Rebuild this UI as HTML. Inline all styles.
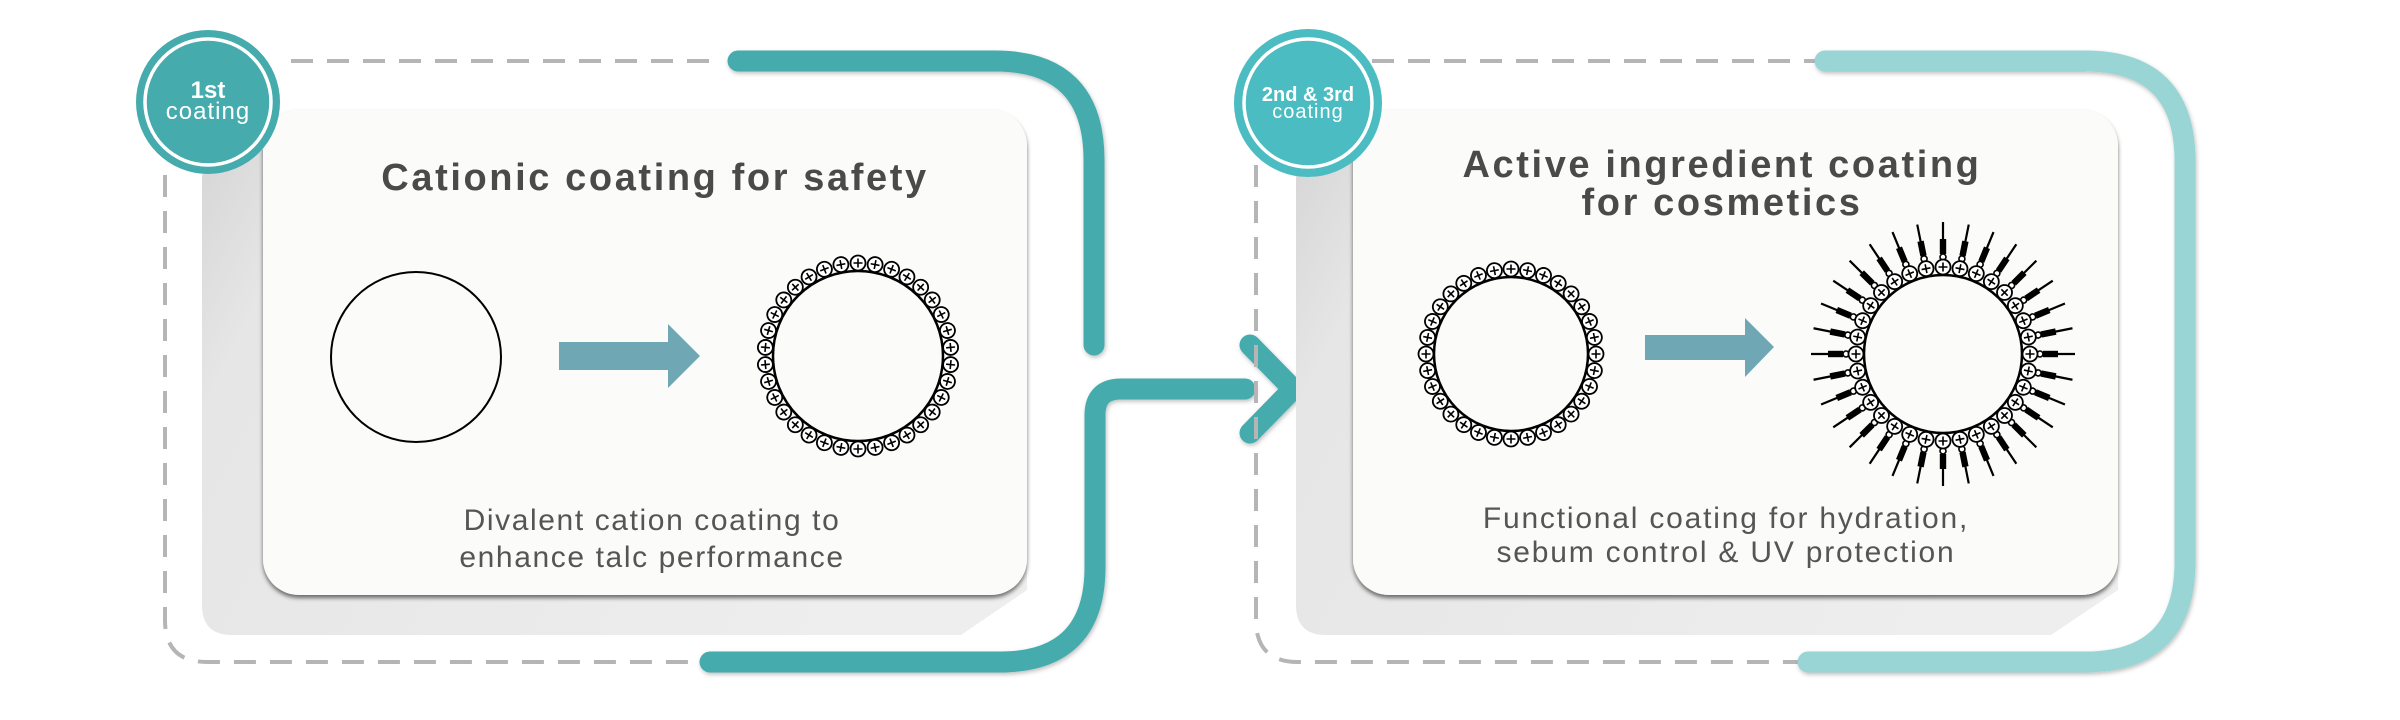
<!DOCTYPE html>
<html><head><meta charset="utf-8"><style>
html,body{margin:0;padding:0;background:#fff;}
svg{display:block;}
text{font-family:"Liberation Sans",sans-serif;}
</style></head><body>
<svg width="2400" height="720" viewBox="0 0 2400 720" xmlns="http://www.w3.org/2000/svg">
<defs>
<linearGradient id="sg" x1="0" y1="0" x2="1" y2="0.3">
<stop offset="0" stop-color="#d6d6d6"/><stop offset="0.15" stop-color="#e6e6e6"/><stop offset="1" stop-color="#eeeeee"/>
</linearGradient>
<filter id="cs" x="-5%" y="-5%" width="110%" height="115%">
<feDropShadow dx="0" dy="3" stdDeviation="2" flood-color="#000" flood-opacity="0.55"/>
</filter>
<filter id="ls" x="-10%" y="-10%" width="120%" height="120%">
<feDropShadow dx="1" dy="2" stdDeviation="2" flood-color="#000" flood-opacity="0.25"/>
</filter>
<g id="bead"><circle r="7.5" fill="#fff" stroke="#000" stroke-width="1.8"/><path d="M-4.5 0H4.5M0 -4.5V4.5" stroke="#000" stroke-width="1.6"/></g>
</defs>

<!-- LEFT PANEL -->
<path d="M291 61H722" stroke="#b5b5b5" stroke-width="4" stroke-dasharray="22 14" fill="none"/>
<path d="M165 175V620Q165 662 207 662H705" stroke="#b5b5b5" stroke-width="4" stroke-dasharray="22 14" fill="none"/>
<path d="M232 150H1027V590L961 635H232Q202 635 202 605V180Q202 150 232 150Z" fill="url(#sg)"/>
<rect x="263" y="110" width="764" height="485" rx="36" fill="#fbfbf9" filter="url(#cs)"/>
<g filter="url(#ls)" fill="none" stroke="#45abad" stroke-width="21" stroke-linecap="round">
<path d="M738 61H995Q1094 61 1094 160V345"/>
<path d="M710 662H1000Q1095 662 1095 567V415Q1095 389 1121 389H1245"/>
<path d="M1250 345L1293 389L1250 433" stroke-linejoin="round"/>
</g>
<circle cx="208" cy="102" r="72" fill="#45abad"/>
<circle cx="208" cy="102" r="63" fill="#45abad" stroke="#fff" stroke-width="3.5"/>
<text x="208" y="98" font-size="24" font-weight="bold" fill="#fff" text-anchor="middle">1st</text>
<text x="208" y="119" font-size="24" fill="#fff" text-anchor="middle" letter-spacing="1">coating</text>

<text x="655" y="190" font-size="38" font-weight="bold" fill="#4a4a4a" text-anchor="middle" letter-spacing="2.6">Cationic coating for safety</text>
<circle cx="416" cy="357" r="85" fill="none" stroke="#000" stroke-width="2"/>
<path d="M559 342H668V324L700 356L668 388V370H559Z" fill="#6fa8b4"/>
<circle cx="858" cy="356" r="85" fill="none" stroke="#000" stroke-width="2.5"/>
<text x="652" y="530" font-size="30" fill="#555" text-anchor="middle" letter-spacing="1.6">Divalent cation coating to</text>
<text x="652" y="567" font-size="30" fill="#555" text-anchor="middle" letter-spacing="1.6">enhance talc performance</text>

<!-- RIGHT PANEL -->
<path d="M1372 61H1815" stroke="#b5b5b5" stroke-width="4" stroke-dasharray="22 14" fill="none"/>
<path d="M1256 165V620Q1256 662 1298 662H1800" stroke="#b5b5b5" stroke-width="4" stroke-dasharray="22 14" fill="none"/>
<path d="M1326 150H2118V590L2051 635H1326Q1296 635 1296 605V180Q1296 150 1326 150Z" fill="url(#sg)"/>
<rect x="1353" y="110" width="765" height="485" rx="36" fill="#fbfbf9" filter="url(#cs)"/>
<path d="M1825 61H2085Q2185 61 2185 161V562Q2185 662 2085 662H1808" fill="none" stroke="#99d5d5" stroke-width="21" stroke-linecap="round" filter="url(#ls)"/>
<circle cx="1308" cy="103" r="74" fill="#4bbcc1"/>
<circle cx="1308" cy="103" r="64" fill="#4bbcc1" stroke="#fff" stroke-width="3.5"/>
<text x="1308" y="101" font-size="20" font-weight="bold" fill="#fff" text-anchor="middle">2nd &amp; 3rd</text>
<text x="1308" y="118" font-size="20" fill="#fff" text-anchor="middle" letter-spacing="1">coating</text>

<text x="1722" y="177" font-size="38" font-weight="bold" fill="#4a4a4a" text-anchor="middle" letter-spacing="2.6">Active ingredient coating</text>
<text x="1722" y="215" font-size="38" font-weight="bold" fill="#4a4a4a" text-anchor="middle" letter-spacing="2.6">for cosmetics</text>
<circle cx="1511" cy="354" r="77" fill="none" stroke="#000" stroke-width="2.5"/>
<path d="M1645 335H1745V318L1774 347L1745 377V360H1645Z" fill="#6fa8b4"/>
<circle cx="1943" cy="354" r="79" fill="none" stroke="#000" stroke-width="2.5"/>
<text x="1726" y="528" font-size="30" fill="#555" text-anchor="middle" letter-spacing="1.8">Functional coating for hydration,</text>
<text x="1726" y="562" font-size="30" fill="#555" text-anchor="middle" letter-spacing="1.8">sebum control &amp; UV protection</text>

<g>
<g transform="translate(858,356)">
<use href="#bead" transform="rotate(0) translate(0,-93)"/><use href="#bead" transform="rotate(10.59) translate(0,-93)"/><use href="#bead" transform="rotate(21.18) translate(0,-93)"/><use href="#bead" transform="rotate(31.76) translate(0,-93)"/><use href="#bead" transform="rotate(42.35) translate(0,-93)"/><use href="#bead" transform="rotate(52.94) translate(0,-93)"/><use href="#bead" transform="rotate(63.53) translate(0,-93)"/><use href="#bead" transform="rotate(74.12) translate(0,-93)"/><use href="#bead" transform="rotate(84.71) translate(0,-93)"/><use href="#bead" transform="rotate(95.29) translate(0,-93)"/><use href="#bead" transform="rotate(105.88) translate(0,-93)"/><use href="#bead" transform="rotate(116.47) translate(0,-93)"/><use href="#bead" transform="rotate(127.06) translate(0,-93)"/><use href="#bead" transform="rotate(137.65) translate(0,-93)"/><use href="#bead" transform="rotate(148.24) translate(0,-93)"/><use href="#bead" transform="rotate(158.82) translate(0,-93)"/><use href="#bead" transform="rotate(169.41) translate(0,-93)"/><use href="#bead" transform="rotate(180) translate(0,-93)"/><use href="#bead" transform="rotate(190.59) translate(0,-93)"/><use href="#bead" transform="rotate(201.18) translate(0,-93)"/><use href="#bead" transform="rotate(211.76) translate(0,-93)"/><use href="#bead" transform="rotate(222.35) translate(0,-93)"/><use href="#bead" transform="rotate(232.94) translate(0,-93)"/><use href="#bead" transform="rotate(243.53) translate(0,-93)"/><use href="#bead" transform="rotate(254.12) translate(0,-93)"/><use href="#bead" transform="rotate(264.71) translate(0,-93)"/><use href="#bead" transform="rotate(275.29) translate(0,-93)"/><use href="#bead" transform="rotate(285.88) translate(0,-93)"/><use href="#bead" transform="rotate(296.47) translate(0,-93)"/><use href="#bead" transform="rotate(307.06) translate(0,-93)"/><use href="#bead" transform="rotate(317.65) translate(0,-93)"/><use href="#bead" transform="rotate(328.24) translate(0,-93)"/><use href="#bead" transform="rotate(338.82) translate(0,-93)"/><use href="#bead" transform="rotate(349.41) translate(0,-93)"/>
</g>
<g transform="translate(1511,354)">
<use href="#bead" transform="rotate(0) translate(0,-85)"/><use href="#bead" transform="rotate(11.25) translate(0,-85)"/><use href="#bead" transform="rotate(22.5) translate(0,-85)"/><use href="#bead" transform="rotate(33.75) translate(0,-85)"/><use href="#bead" transform="rotate(45) translate(0,-85)"/><use href="#bead" transform="rotate(56.25) translate(0,-85)"/><use href="#bead" transform="rotate(67.5) translate(0,-85)"/><use href="#bead" transform="rotate(78.75) translate(0,-85)"/><use href="#bead" transform="rotate(90) translate(0,-85)"/><use href="#bead" transform="rotate(101.25) translate(0,-85)"/><use href="#bead" transform="rotate(112.5) translate(0,-85)"/><use href="#bead" transform="rotate(123.75) translate(0,-85)"/><use href="#bead" transform="rotate(135) translate(0,-85)"/><use href="#bead" transform="rotate(146.25) translate(0,-85)"/><use href="#bead" transform="rotate(157.5) translate(0,-85)"/><use href="#bead" transform="rotate(168.75) translate(0,-85)"/><use href="#bead" transform="rotate(180) translate(0,-85)"/><use href="#bead" transform="rotate(191.25) translate(0,-85)"/><use href="#bead" transform="rotate(202.5) translate(0,-85)"/><use href="#bead" transform="rotate(213.75) translate(0,-85)"/><use href="#bead" transform="rotate(225) translate(0,-85)"/><use href="#bead" transform="rotate(236.25) translate(0,-85)"/><use href="#bead" transform="rotate(247.5) translate(0,-85)"/><use href="#bead" transform="rotate(258.75) translate(0,-85)"/><use href="#bead" transform="rotate(270) translate(0,-85)"/><use href="#bead" transform="rotate(281.25) translate(0,-85)"/><use href="#bead" transform="rotate(292.5) translate(0,-85)"/><use href="#bead" transform="rotate(303.75) translate(0,-85)"/><use href="#bead" transform="rotate(315) translate(0,-85)"/><use href="#bead" transform="rotate(326.25) translate(0,-85)"/><use href="#bead" transform="rotate(337.5) translate(0,-85)"/><use href="#bead" transform="rotate(348.75) translate(0,-85)"/>
</g>
<g transform="translate(1943,354)">
<g id="sp"><line x1="0" y1="-114" x2="0" y2="-132" stroke="#000" stroke-width="2.2"/><rect x="-3.2" y="-115" width="6.4" height="15" fill="#000"/><circle cy="-97" r="3" fill="#fff" stroke="#000" stroke-width="1.6"/><use href="#bead" transform="translate(0,-87)"/></g>
<use href="#sp" transform="rotate(11.25)"/><use href="#sp" transform="rotate(22.5)"/><use href="#sp" transform="rotate(33.75)"/><use href="#sp" transform="rotate(45)"/><use href="#sp" transform="rotate(56.25)"/><use href="#sp" transform="rotate(67.5)"/><use href="#sp" transform="rotate(78.75)"/><use href="#sp" transform="rotate(90)"/><use href="#sp" transform="rotate(101.25)"/><use href="#sp" transform="rotate(112.5)"/><use href="#sp" transform="rotate(123.75)"/><use href="#sp" transform="rotate(135)"/><use href="#sp" transform="rotate(146.25)"/><use href="#sp" transform="rotate(157.5)"/><use href="#sp" transform="rotate(168.75)"/><use href="#sp" transform="rotate(180)"/><use href="#sp" transform="rotate(191.25)"/><use href="#sp" transform="rotate(202.5)"/><use href="#sp" transform="rotate(213.75)"/><use href="#sp" transform="rotate(225)"/><use href="#sp" transform="rotate(236.25)"/><use href="#sp" transform="rotate(247.5)"/><use href="#sp" transform="rotate(258.75)"/><use href="#sp" transform="rotate(270)"/><use href="#sp" transform="rotate(281.25)"/><use href="#sp" transform="rotate(292.5)"/><use href="#sp" transform="rotate(303.75)"/><use href="#sp" transform="rotate(315)"/><use href="#sp" transform="rotate(326.25)"/><use href="#sp" transform="rotate(337.5)"/><use href="#sp" transform="rotate(348.75)"/>
</g>
</g>
</svg>
</body></html>
